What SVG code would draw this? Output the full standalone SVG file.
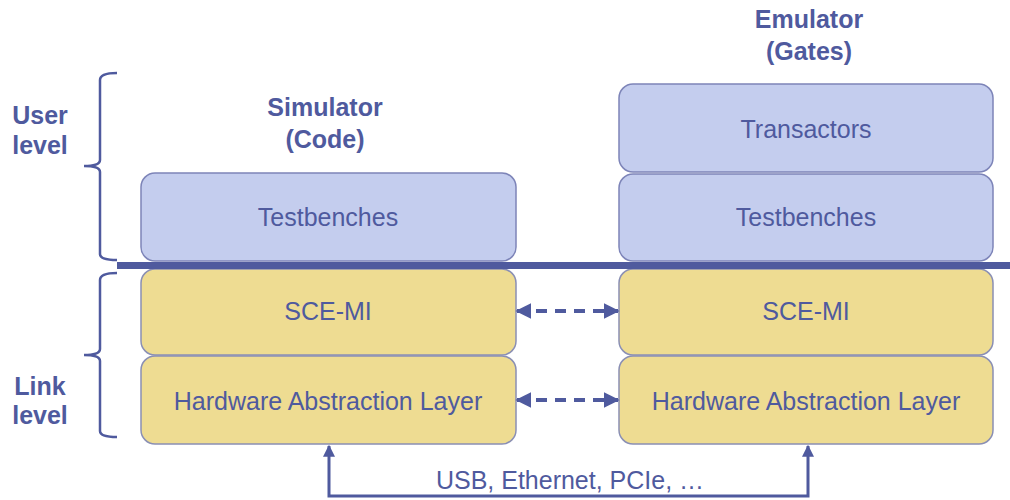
<svg xmlns="http://www.w3.org/2000/svg" width="1010" height="500" viewBox="0 0 1010 500">
<defs>
<style>
.t{font-family:"Liberation Sans",Arial,sans-serif;fill:#4f5a9e;text-anchor:middle}
.lbl{font-size:25px}
.hd{font-size:25px;font-weight:bold}
.blue{fill:#c4cdee;stroke:#7d84b8;stroke-width:1.5}
.yel{fill:#eedc92;stroke:#8a8fb4;stroke-width:1.5}
.ln{fill:none;stroke:#4f5a9e}
</style>
<marker id="ah" viewBox="0 0 10 10" refX="9" refY="5" markerWidth="4" markerHeight="4" orient="auto-start-reverse" markerUnits="strokeWidth">
<path d="M0,0 L10,5 L0,10 z" fill="#4f5a9e"/>
</marker>
</defs>
<rect width="1010" height="500" fill="#ffffff"/>

<g id="headings">
<text class="t hd" x="325" y="116">Simulator</text>
<text class="t hd" x="325" y="148">(Code)</text>
<text class="t hd" x="809" y="28">Emulator</text>
<text class="t hd" x="809" y="60">(Gates)</text>
<text class="t hd" x="40" y="124">User</text>
<text class="t hd" x="40" y="154">level</text>
<text class="t hd" x="40" y="395">Link</text>
<text class="t hd" x="40" y="424">level</text>
</g>

<g id="braces" class="ln" stroke-width="2.5">
<path d="M117,73 Q100,73 100,80 L100,160 Q100,166 84,166 Q100,166 100,172 L100,254 Q100,260 117,260"/>
<path d="M117,273 Q100,273 100,280 L100,349 Q100,355 84,355 Q100,355 100,361 L100,431 Q100,437 117,437"/>
</g>

<g id="sim-testbenches"><rect class="blue" x="141" y="173" width="375" height="88" rx="14"/><text class="t lbl" x="328" y="226">Testbenches</text></g>
<g id="emu-transactors"><rect class="blue" x="619" y="84" width="374" height="88" rx="14"/><text class="t lbl" x="806" y="138">Transactors</text></g>
<g id="emu-testbenches"><rect class="blue" x="619" y="174" width="374" height="87" rx="14"/><text class="t lbl" x="806" y="226">Testbenches</text></g>

<g id="sim-scemi"><rect class="yel" x="141" y="269" width="375" height="86" rx="14"/><text class="t lbl" x="328" y="320">SCE-MI</text></g>
<g id="sim-hal"><rect class="yel" x="141" y="356" width="375" height="88" rx="14"/><text class="t lbl" x="328" y="410">Hardware Abstraction Layer</text></g>
<g id="emu-scemi"><rect class="yel" x="619" y="269" width="374" height="86" rx="14"/><text class="t lbl" x="806" y="320">SCE-MI</text></g>
<g id="emu-hal"><rect class="yel" x="619" y="356" width="374" height="88" rx="14"/><text class="t lbl" x="806" y="410">Hardware Abstraction Layer</text></g>

<g id="divider"><rect x="117" y="262" width="893" height="7" fill="#4f5a9e"/></g>

<g id="connectors">
<line class="ln" x1="517" y1="311" x2="618" y2="311" stroke-width="4" stroke-dasharray="11,8" marker-start="url(#ah)" marker-end="url(#ah)"/>
<line class="ln" x1="517" y1="400" x2="618" y2="400" stroke-width="4" stroke-dasharray="11,8" marker-start="url(#ah)" marker-end="url(#ah)"/>
<path class="ln" d="M329,446 L329,496 L808,496 L808,446" stroke-width="3" marker-start="url(#ah)" marker-end="url(#ah)"/>
<text class="t" x="570" y="489" font-size="25">USB, Ethernet, PCIe, …</text>
</g>
</svg>
